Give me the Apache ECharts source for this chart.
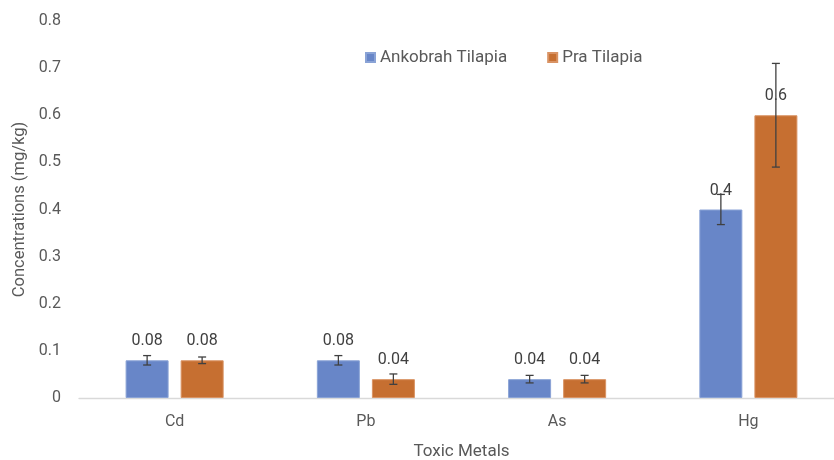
<!DOCTYPE html>
<html>
<head>
<meta charset="utf-8">
<script src="https://cdn.jsdelivr.net/npm/echarts@6/dist/echarts.min.js"></script>
<style>
html,body{margin:0;padding:0;background:#fff;}
#c{width:834px;height:460px;}
</style>
</head>
<body>
<div id="c"></div>
<script>
const categories = ['Cd', 'Pb', 'As', 'Hg'];
const seriesNames = ['Ankobrah Tilapia', 'Pra Tilapia'];
const ankobrah = [0.08, 0.08, 0.04, 0.4];
const pra = [0.08, 0.04, 0.04, 0.6];
const ankobrahErr = [0.01, 0.01, 0.008, 0.032];
const praErr = [0.007, 0.011, 0.008, 0.11];
const yTicks = [0, 0.1, 0.2, 0.3, 0.4, 0.5, 0.6, 0.7, 0.8];

const FONT = 'Roboto';
const TXT = '#595959';
const BAR_W = 43;
const OFFSET = 27.5;

function errSeries(values, errs, dir) {
  return {
    type: 'custom',
    z: 10,
    silent: true,
    clip: false,
    data: values.map((v, i) => [i, v, errs[i]]),
    renderItem: function (params, api) {
      const i = api.value(0), v = api.value(1), e = api.value(2);
      const hi = api.coord([i, v + e]);
      const lo = api.coord([i, v - e]);
      const x = hi[0] + dir * OFFSET;
      const cap = 4;
      const st = { stroke: '#404040', lineWidth: 1.3 };
      return {
        type: 'group',
        children: [
          { type: 'line', shape: { x1: x, y1: hi[1], x2: x, y2: lo[1] }, style: st },
          { type: 'line', shape: { x1: x - cap, y1: hi[1], x2: x + cap, y2: hi[1] }, style: st },
          { type: 'line', shape: { x1: x - cap, y1: lo[1], x2: x + cap, y2: lo[1] }, style: st }
        ]
      };
    }
  };
}

const labelCfg = {
  show: true,
  position: 'top',
  distance: 11,
  color: '#404040',
  fontFamily: FONT,
  fontSize: 16,
  formatter: p => String(p.value)
};

const chart = echarts.init(document.getElementById('c'));
chart.setOption({
  animation: false,
  backgroundColor: '#fff',
  textStyle: { fontFamily: FONT },
  legend: {
    data: seriesNames,
    top: 44,
    left: 360,
    itemWidth: 9,
    itemHeight: 9,
    itemGap: 40,
    icon: 'rect',
    textStyle: { color: TXT, fontSize: 17, fontFamily: FONT }
  },
  grid: { left: 79, top: 21, width: 765, height: 377, containLabel: false, outerBoundsMode: 'none' },
  xAxis: {
    type: 'category',
    data: categories,
    name: 'Toxic Metals',
    nameLocation: 'middle',
    nameGap: 45,
    nameTextStyle: { color: TXT, fontSize: 17, fontFamily: FONT },
    axisLine: { lineStyle: { color: '#d9d9d9', width: 1.3 } },
    axisTick: { show: false },
    axisLabel: { color: TXT, fontSize: 16, fontFamily: FONT, margin: 16 }
  },
  yAxis: {
    type: 'value',
    min: 0,
    max: 0.8,
    interval: 0.1,
    name: 'Concentrations (mg/kg)',
    nameLocation: 'middle',
    nameGap: 46,
    nameTextStyle: { color: TXT, fontSize: 16.5, fontFamily: FONT },
    axisLine: { show: false },
    axisTick: { show: false },
    splitLine: { show: false },
    axisLabel: {
      color: TXT, fontSize: 16, fontFamily: FONT, margin: 18,
      formatter: v => {
        const t = yTicks.find(x => Math.abs(x - v) < 1e-9);
        return t === undefined ? '' : String(t);
      }
    }
  },
  series: [
    {
      name: seriesNames[0], type: 'bar', data: ankobrah,
      barWidth: BAR_W, barGap: '28%',
      itemStyle: { color: '#6886C8', borderColor: '#8aa3d6', borderWidth: 1 },
      label: labelCfg
    },
    {
      name: seriesNames[1], type: 'bar', data: pra,
      barWidth: BAR_W, barGap: '28%',
      itemStyle: { color: '#C66F31', borderColor: '#d99364', borderWidth: 1 },
      label: labelCfg
    },
    errSeries(ankobrah, ankobrahErr, -1),
    errSeries(pra, praErr, 1)
  ]
});
</script>
</body>
</html>
